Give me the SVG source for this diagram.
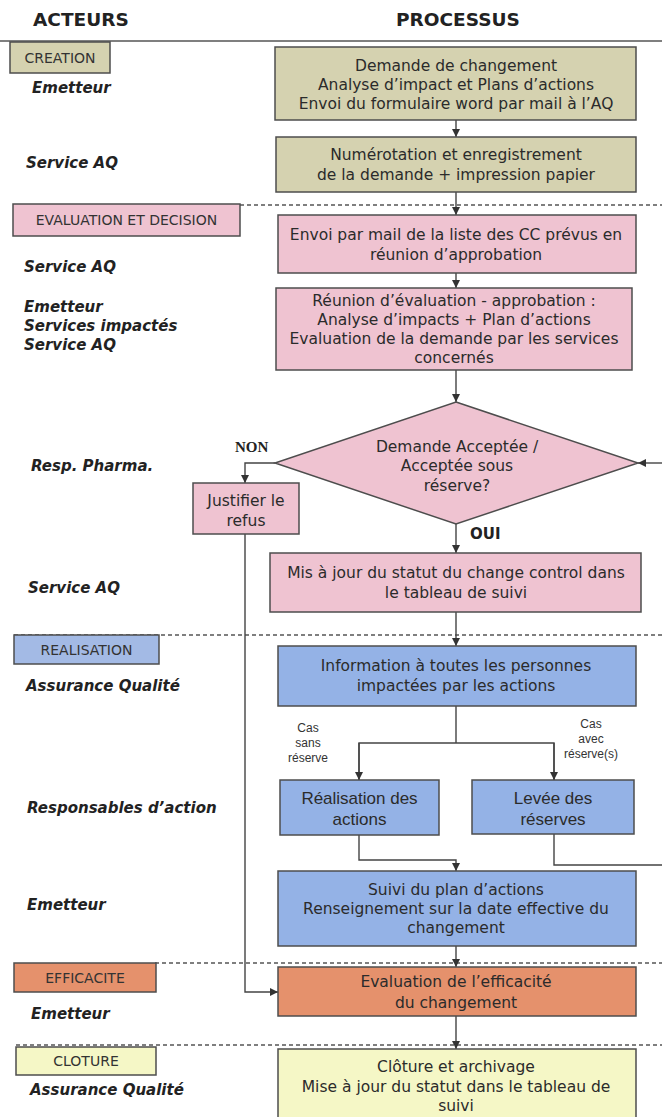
<svg xmlns="http://www.w3.org/2000/svg" width="662" height="1117" viewBox="0 0 662 1117">
<style>
.bg{fill:#ffffff}
.box{stroke:#4d4d4d;stroke-width:1.5}
.olive{fill:#d5d2b0}
.pink{fill:#efc3d1}
.blue{fill:#94b2e6}
.blue2{fill:#a3bae5}
.orange{fill:#e5916c}
.yellow{fill:#f5f7c6}
.t{font-family:"DejaVu Sans",Verdana,sans-serif;font-size:15.5px;fill:#2b2b2b;text-anchor:middle}
.t2{font-family:"Liberation Sans",Arial,sans-serif;font-size:17px;fill:#2b2b2b;text-anchor:middle}
.small{font-family:"Liberation Sans",Arial,sans-serif;font-size:12px;fill:#333;text-anchor:middle}
.lbl{font-family:"DejaVu Sans",Verdana,sans-serif;font-size:14px;fill:#333;text-anchor:middle}
.actor{font-family:"DejaVu Sans",Verdana,sans-serif;font-size:15px;font-weight:bold;font-style:italic;fill:#222}
.head{font-family:"DejaVu Sans",Verdana,sans-serif;font-size:18.5px;font-weight:bold;fill:#222}
.conn{fill:none;stroke:#444;stroke-width:1.4}
.dash{fill:none;stroke:#555;stroke-width:1.3;stroke-dasharray:4 3}
</style>
<defs>
<marker id="ah" markerUnits="userSpaceOnUse" markerWidth="9" markerHeight="9" refX="8" refY="4" orient="auto">
<path d="M0,0 L8,4 L0,8 z" fill="#333"/>
</marker>
</defs>
<rect class="bg" x="0" y="0" width="662" height="1117"/>

<g id="headers">
<text class="head" x="33" y="26">ACTEURS</text>
<text class="head" x="396" y="26">PROCESSUS</text>
<line x1="0" y1="41" x2="662" y2="41" stroke="#555" stroke-width="1.6"/>
</g>

<g id="separators">
<line class="dash" x1="240" y1="205" x2="662" y2="205"/>
<line class="dash" x1="14" y1="635" x2="662" y2="635"/>
<line class="dash" x1="155" y1="963" x2="662" y2="963"/>
<line class="dash" x1="16" y1="1045" x2="662" y2="1045"/>
</g>

<g id="phase-creation"><rect class="box olive" x="10" y="42" width="100" height="31"/><text class="lbl" x="60" y="63">CREATION</text></g>
<g id="phase-evaluation"><rect class="box pink" x="13" y="204" width="227" height="32"/><text class="lbl" x="126.5" y="225">EVALUATION ET DECISION</text></g>
<g id="phase-realisation"><rect class="box blue2" x="14" y="635" width="145" height="29"/><text class="lbl" x="86.5" y="655">REALISATION</text></g>
<g id="phase-efficacite"><rect class="box orange" x="14" y="963" width="142" height="29"/><text class="lbl" x="85" y="983">EFFICACITE</text></g>
<g id="phase-cloture"><rect class="box yellow" x="16" y="1047" width="140" height="28"/><text class="lbl" x="86" y="1066">CLOTURE</text></g>

<g id="actors">
<text class="actor" x="32" y="93">Emetteur</text>
<text class="actor" x="26" y="168">Service AQ</text>
<text class="actor" x="24" y="272">Service AQ</text>
<text class="actor" x="24" y="312">Emetteur</text>
<text class="actor" x="24" y="331">Services impactés</text>
<text class="actor" x="24" y="350">Service AQ</text>
<text class="actor" x="31" y="471">Resp. Pharma.</text>
<text class="actor" x="28" y="593">Service AQ</text>
<text class="actor" x="26" y="691">Assurance Qualité</text>
<text class="actor" x="27" y="813">Responsables d’action</text>
<text class="actor" x="27" y="910">Emetteur</text>
<text class="actor" x="31" y="1019">Emetteur</text>
<text class="actor" x="30" y="1095">Assurance Qualité</text>
</g>

<g id="connectors">
<line class="conn" x1="456" y1="120" x2="456" y2="137" marker-end="url(#ah)"/>
<line class="conn" x1="456" y1="192" x2="456" y2="215" marker-end="url(#ah)"/>
<line class="conn" x1="456" y1="273" x2="456" y2="288" marker-end="url(#ah)"/>
<line class="conn" x1="456" y1="370" x2="456" y2="402" marker-end="url(#ah)"/>
<polyline class="conn" points="275,463 245,463 245,483" marker-end="url(#ah)"/>
<line class="conn" x1="662" y1="463" x2="638" y2="463" marker-end="url(#ah)"/>
<line class="conn" x1="456" y1="524" x2="456" y2="553" marker-end="url(#ah)"/>
<line class="conn" x1="456" y1="612" x2="456" y2="646" marker-end="url(#ah)"/>
<polyline class="conn" points="456,706 456,743"/>
<polyline class="conn" points="359,780 359,743 554,743 554,780"/>
<line class="conn" x1="359" y1="743" x2="359" y2="780" marker-end="url(#ah)"/>
<line class="conn" x1="554" y1="743" x2="554" y2="780" marker-end="url(#ah)"/>
<polyline class="conn" points="359,835 359,860 456,860 456,871" marker-end="url(#ah)"/>
<polyline class="conn" points="554,834 554,865 662,865"/>
<line class="conn" x1="456" y1="946" x2="456" y2="967" marker-end="url(#ah)"/>
<polyline class="conn" points="245,534 245,992 278,992" marker-end="url(#ah)"/>
<line class="conn" x1="456" y1="1016" x2="456" y2="1049" marker-end="url(#ah)"/>
<text class="small" x="308" y="732">Cas</text>
<text class="small" x="308" y="747">sans</text>
<text class="small" x="308" y="762">réserve</text>
<text class="small" x="591" y="728">Cas</text>
<text class="small" x="591" y="743">avec</text>
<text class="small" x="591" y="758">réserve(s)</text>
<text x="235" y="452" font-family="'Liberation Serif',serif" font-weight="bold" font-size="15" fill="#222">NON</text>
<text x="470" y="539" font-family="'DejaVu Sans',sans-serif" font-weight="bold" font-size="15" fill="#222">OUI</text>
</g>

<g id="n1"><rect class="box olive" x="275" y="47" width="361" height="73"/>
<text class="t" x="456" y="71">Demande de changement</text>
<text class="t" x="456" y="90">Analyse d’impact et Plans d’actions</text>
<text class="t" x="456" y="109">Envoi du formulaire word par mail à l’AQ</text></g>

<g id="n2"><rect class="box olive" x="276" y="137" width="360" height="55"/>
<text class="t" x="456" y="160">Numérotation et enregistrement</text>
<text class="t" x="456" y="180">de la demande + impression papier</text></g>

<g id="n3"><rect class="box pink" x="278" y="215" width="358" height="58"/>
<text class="t" x="456" y="240">Envoi par mail de la liste des CC prévus en</text>
<text class="t" x="456" y="260">réunion d’approbation</text></g>

<g id="n4"><rect class="box pink" x="276" y="288" width="356" height="82"/>
<text class="t" x="454" y="306">Réunion d’évaluation - approbation :</text>
<text class="t" x="454" y="325">Analyse d’impacts + Plan d’actions</text>
<text class="t" x="454" y="344">Evaluation de la demande par les services</text>
<text class="t" x="454" y="363">concernés</text></g>

<g id="n5"><polygon class="box pink" points="456,402 638,463 456,524 275,463"/>
<text class="t" x="457" y="452">Demande Acceptée /</text>
<text class="t" x="457" y="471">Acceptée sous</text>
<text class="t" x="457" y="491">réserve?</text></g>

<g id="n6"><rect class="box pink" x="193" y="483" width="106" height="51"/>
<text class="t" x="246" y="506">Justifier le</text>
<text class="t" x="246" y="526">refus</text></g>

<g id="n7"><rect class="box pink" x="270" y="553" width="371" height="59"/>
<text class="t" x="456" y="578">Mis à jour du statut du change control dans</text>
<text class="t" x="456" y="598">le tableau de suivi</text></g>

<g id="n8"><rect class="box blue" x="278" y="646" width="358" height="60"/>
<text class="t" x="456" y="671">Information à toutes les personnes</text>
<text class="t" x="456" y="691">impactées par les actions</text></g>

<g id="n9"><rect class="box blue" x="280" y="780" width="159" height="55"/>
<text class="t2" x="359.5" y="804">Réalisation des</text>
<text class="t2" x="359.5" y="825">actions</text></g>

<g id="n10"><rect class="box blue" x="472" y="780" width="162" height="54"/>
<text class="t2" x="553" y="804">Levée des</text>
<text class="t2" x="553" y="825">réserves</text></g>

<g id="n11"><rect class="box blue" x="278" y="871" width="358" height="75"/>
<text class="t" x="456" y="895">Suivi du plan d’actions</text>
<text class="t" x="456" y="914">Renseignement sur la date effective du</text>
<text class="t" x="456" y="933">changement</text></g>

<g id="n12"><rect class="box orange" x="278" y="967" width="358" height="49"/>
<text class="t" x="456" y="987">Evaluation de l’efficacité</text>
<text class="t" x="456" y="1008">du changement</text></g>

<g id="n13"><rect class="box yellow" x="278" y="1049" width="358" height="72"/>
<text class="t" x="456" y="1072">Clôture et archivage</text>
<text class="t" x="456" y="1092">Mise à jour du statut dans le tableau de</text>
<text class="t" x="456" y="1111">suivi</text></g>
</svg>
